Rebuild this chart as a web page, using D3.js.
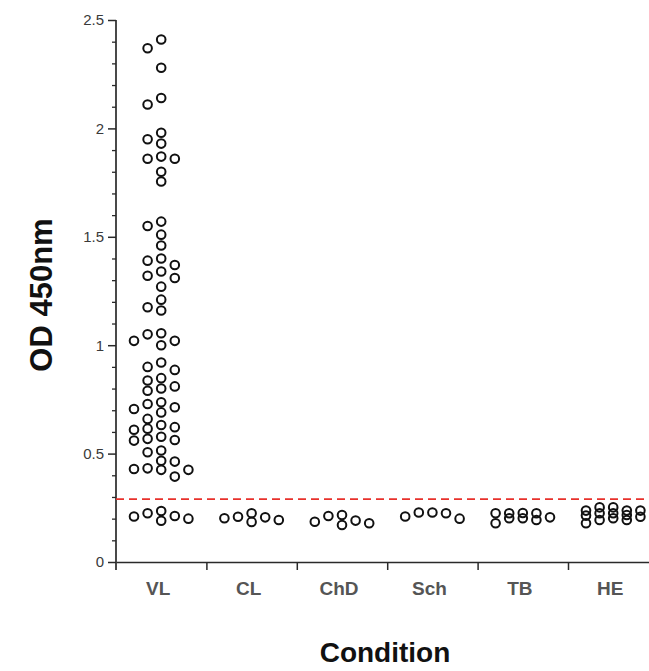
<!DOCTYPE html>
<html>
<head>
<meta charset="utf-8">
<script src="https://cdn.jsdelivr.net/npm/d3@7/dist/d3.min.js"></script>
<style>
  html, body { margin: 0; padding: 0; background: #fff; }
  svg { display: block; font-family: Arial, "Liberation Sans", sans-serif; }
</style>
</head>
<body>
<svg id="chart" width="649" height="671"></svg>
<script>
// ---- data ----
const categories = ["VL", "CL", "ChD", "Sch", "TB", "HE"];
const valuesVL = [2.41, 2.37, 2.28, 2.14, 2.11, 1.98, 1.95, 1.93, 1.87, 1.86, 1.86, 1.80, 1.755,
  1.57, 1.55, 1.51, 1.46, 1.40, 1.39, 1.37, 1.34, 1.32, 1.31, 1.27, 1.21, 1.175, 1.16,
  1.055, 1.05, 1.02, 1.02, 1.00, 0.92, 0.90, 0.886, 0.848, 0.837, 0.81, 0.80, 0.79,
  0.737, 0.729, 0.714, 0.706, 0.69, 0.66, 0.632, 0.622, 0.615, 0.61, 0.578, 0.568, 0.563, 0.56,
  0.514, 0.506, 0.467, 0.463, 0.432, 0.429, 0.425, 0.425, 0.394,
  0.235, 0.225, 0.212, 0.21, 0.2, 0.19];
const valuesCL = [0.225, 0.209, 0.206, 0.202, 0.194, 0.185];
const valuesChD = [0.217, 0.212, 0.191, 0.186, 0.179, 0.171];
const valuesSch = [0.228, 0.228, 0.225, 0.21, 0.2];
const valuesTB = [0.226, 0.225, 0.225, 0.225, 0.206, 0.202, 0.202, 0.194, 0.179];
const valuesHE = [0.252, 0.252, 0.237, 0.237, 0.237, 0.225, 0.225, 0.217, 0.214, 0.209, 0.202, 0.194, 0.194, 0.179];
const seriesValues = [valuesVL, valuesCL, valuesChD, valuesSch, valuesTB, valuesHE];
const yTickValues = [0, 0.5, 1, 1.5, 2, 2.5];
const yTickLabels = ["0", "0.5", "1", "1.5", "2", "2.5"];
const cutoff = 0.29;
const yTitle = "OD 450nm";
const xTitle = "Condition";

// ---- layout ----
const svg = d3.select("#chart");
const plotLeft = 116, bandW = 90.4, plotTop = 20, plotBottom = 562;
const x = d3.scaleBand().domain(categories).range([plotLeft, plotLeft + bandW * categories.length]);
const xb = d3.scaleLinear().domain([0, categories.length]).range([plotLeft, plotLeft + bandW * categories.length]);
const y = d3.scaleLinear().domain([0, 2.5]).range([plotBottom, plotTop]);
const axisColor = "#2a2a2a";

// y-axis minor ticks
const minor = d3.range(0, 26).map(i => i / 10).filter(v => Math.round(v * 10) % 5 !== 0);
svg.append("g").attr("transform", `translate(${plotLeft},0)`)
  .call(d3.axisLeft(y).tickValues(minor).tickSize(4).tickSizeOuter(0).tickFormat(""))
  .call(g => g.select(".domain").remove())
  .call(g => g.selectAll("line").attr("stroke", axisColor).attr("stroke-width", 1.3));

// y-axis major ticks + labels
svg.append("g").attr("transform", `translate(${plotLeft},0)`)
  .call(d3.axisLeft(y).tickValues(yTickValues).tickSize(8).tickSizeOuter(0)
    .tickPadding(4).tickFormat((d, i) => yTickLabels[i]))
  .call(g => g.select(".domain").remove())
  .call(g => g.selectAll("line").attr("stroke", axisColor).attr("stroke-width", 1.5))
  .call(g => g.selectAll("text").attr("fill", "#3a3a3a").style("font-size", "15px")
    .style("font-family", "Arial, 'Liberation Sans', sans-serif"));

// y-axis line (extends slightly below zero)
svg.append("line").attr("x1", plotLeft).attr("x2", plotLeft).attr("y1", y(2.5)).attr("y2", plotBottom + 8)
  .attr("stroke", axisColor).attr("stroke-width", 1.7);

// x-axis boundary ticks
svg.append("g").attr("transform", `translate(0,${plotBottom})`)
  .call(d3.axisBottom(xb).tickValues(d3.range(1, categories.length)).tickSize(8).tickSizeOuter(0).tickFormat(""))
  .call(g => g.select(".domain").attr("stroke", axisColor).attr("stroke-width", 1.7))
  .call(g => g.selectAll("line").attr("stroke", axisColor).attr("stroke-width", 1.5));

// category labels
svg.append("g").attr("transform", `translate(0,${plotBottom})`)
  .call(d3.axisBottom(x).tickSize(0).tickPadding(20))
  .call(g => g.select(".domain").remove())
  .call(g => g.selectAll("text").attr("fill", "#555").attr("dx", -3)
    .style("font-size", "19px").style("font-weight", "bold")
    .style("font-family", "Arial, 'Liberation Sans', sans-serif"));

// cutoff line
svg.append("line").attr("x1", plotLeft).attr("x2", 649).attr("y1", y(cutoff)).attr("y2", y(cutoff))
  .attr("stroke", "#e8312b").attr("stroke-width", 1.7).attr("stroke-dasharray", "8,5");

// column scatter: spread points sideways into at most 5 columns
const step = 13.6, minDy = 9.5;
const slotOrder = [0, -1, 1, -2, 2];
const points = [];
categories.forEach((c, ci) => {
  const vals = seriesValues[ci].slice().sort((a, b) => b - a);
  const placed = [];
  vals.forEach(v => {
    const py = y(v);
    const gap = s => d3.min(placed.filter(p => p.s === s), p => Math.abs(p.py - py)) ?? Infinity;
    let slot = slotOrder.find(s => gap(s) >= minDy);
    if (slot === undefined) slot = slotOrder.reduce((best, s) => gap(s) > gap(best) + 0.01 ? s : best, slotOrder[0]);
    placed.push({ s: slot, py });
    points.push({ c, v, s: slot });
  });
});

svg.append("g").selectAll("circle").data(points).join("circle")
  .attr("cx", d => x(d.c) + x.bandwidth() / 2 + d.s * step)
  .attr("cy", d => y(d.v))
  .attr("r", 4.3)
  .attr("fill", "none")
  .attr("stroke", "#111")
  .attr("stroke-width", 2);

// titles
svg.append("text").attr("transform", `translate(52,295) rotate(-90)`)
  .attr("text-anchor", "middle").attr("fill", "#111")
  .style("font-size", "31px").style("font-weight", "bold").text(yTitle);
svg.append("text").attr("x", 385).attr("y", 662)
  .attr("text-anchor", "middle").attr("fill", "#111")
  .style("font-size", "28px").style("font-weight", "bold").text(xTitle);
</script>
</body>
</html>
